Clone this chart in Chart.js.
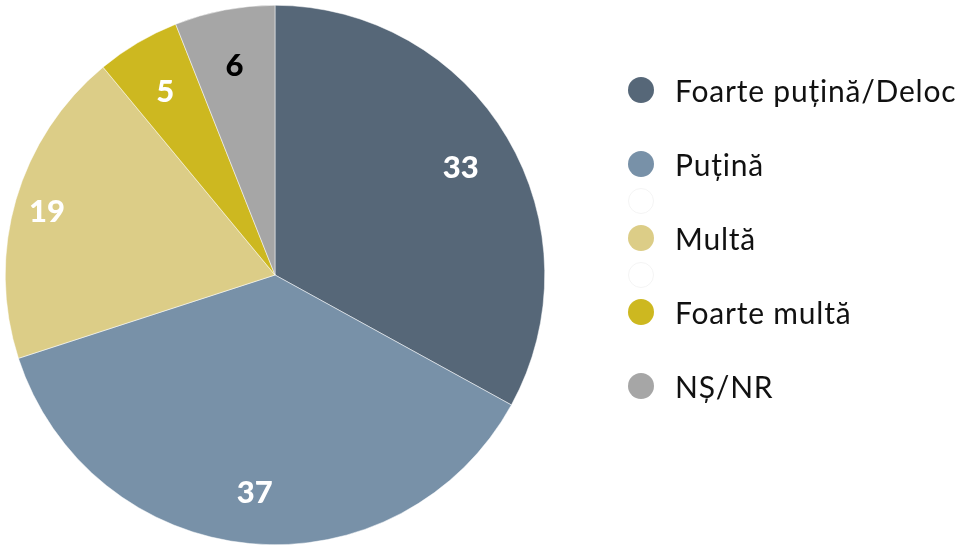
<!DOCTYPE html>
<html>
<head>
<meta charset="utf-8">
<script src="https://cdn.jsdelivr.net/npm/chart.js@4"></script>
<style>
  html, body { margin: 0; padding: 0; background: #fff; }
  #wrap { position: relative; width: 957px; height: 545px; }
  #legend { position: absolute; left: 628px; top: 72px; font-family: Lato, "Open Sans", sans-serif; font-size: 30px; letter-spacing: 0.8px; color: #111; }
  .row { height: 36.9px; display: flex; align-items: center; white-space: nowrap; }
  .dot { width: 26px; height: 26px; border-radius: 50%; margin-right: 21px; box-sizing: border-box; flex: none; }
</style>
</head>
<body>
<div id="wrap">
  <canvas id="chart" width="957" height="545"></canvas>
  <div id="legend"></div>
</div>
<script>
const labels = ["Foarte puțină/Deloc", "Puțină", "Multă", "Foarte multă", "NȘ/NR"];
const values = [33, 37, 19, 5, 6];
const colors = ["#566778", "#7891a8", "#dccd87", "#cdb820", "#a6a6a6"];
const labelColors = ["#fff", "#fff", "#fff", "#fff", "#000"];

// legend rows: name = real entry, "" = empty faint circle, null = gap
const legendRows = ["Foarte puțină/Deloc", null, "Puțină", "", "Multă", "", "Foarte multă", null, "NȘ/NR"];

// numbers on slices
const sliceLabels = {
  id: "sliceLabels",
  afterDatasetsDraw(c) {
    const ctx = c.ctx;
    const meta = c.getDatasetMeta(0);
    ctx.save();
    ctx.font = "900 31px Lato, 'Open Sans', sans-serif";
    ctx.textAlign = "center";
    ctx.textBaseline = "middle";
    meta.data.forEach((arc, i) => {
      const p = arc.getProps(["x", "y", "startAngle", "endAngle", "outerRadius"]);
      const mid = (p.startAngle + p.endAngle) / 2;
      const r = p.outerRadius * (i === 2 ? 0.88 : 0.8);
      ctx.fillStyle = labelColors[i];
      ctx.fillText(values[i], p.x + Math.cos(mid) * r, p.y + Math.sin(mid) * r + 3);
    });
    ctx.restore();
  }
};

new Chart(document.getElementById("chart"), {
  type: "pie",
  data: {
    labels,
    datasets: [{
      data: values,
      backgroundColor: colors,
      borderColor: "#ffffff",
      borderWidth: 0.5
    }]
  },
  options: {
    responsive: false,
    animation: false,
    layout: { padding: { left: 5, right: 412, top: 5, bottom: 0 } },
    plugins: {
      legend: { display: false },
      tooltip: { enabled: false }
    }
  },
  plugins: [sliceLabels]
});

const leg = document.getElementById("legend");
legendRows.forEach(name => {
  const row = document.createElement("div");
  row.className = "row";
  if (name !== null) {
    const dot = document.createElement("div");
    dot.className = "dot";
    const i = labels.indexOf(name);
    if (i >= 0) {
      dot.style.background = colors[i];
    } else {
      dot.style.border = "1px solid #f4f4f4";
    }
    row.appendChild(dot);
    if (i >= 0) row.appendChild(document.createTextNode(name));
  }
  leg.appendChild(row);
});
</script>
</body>
</html>
